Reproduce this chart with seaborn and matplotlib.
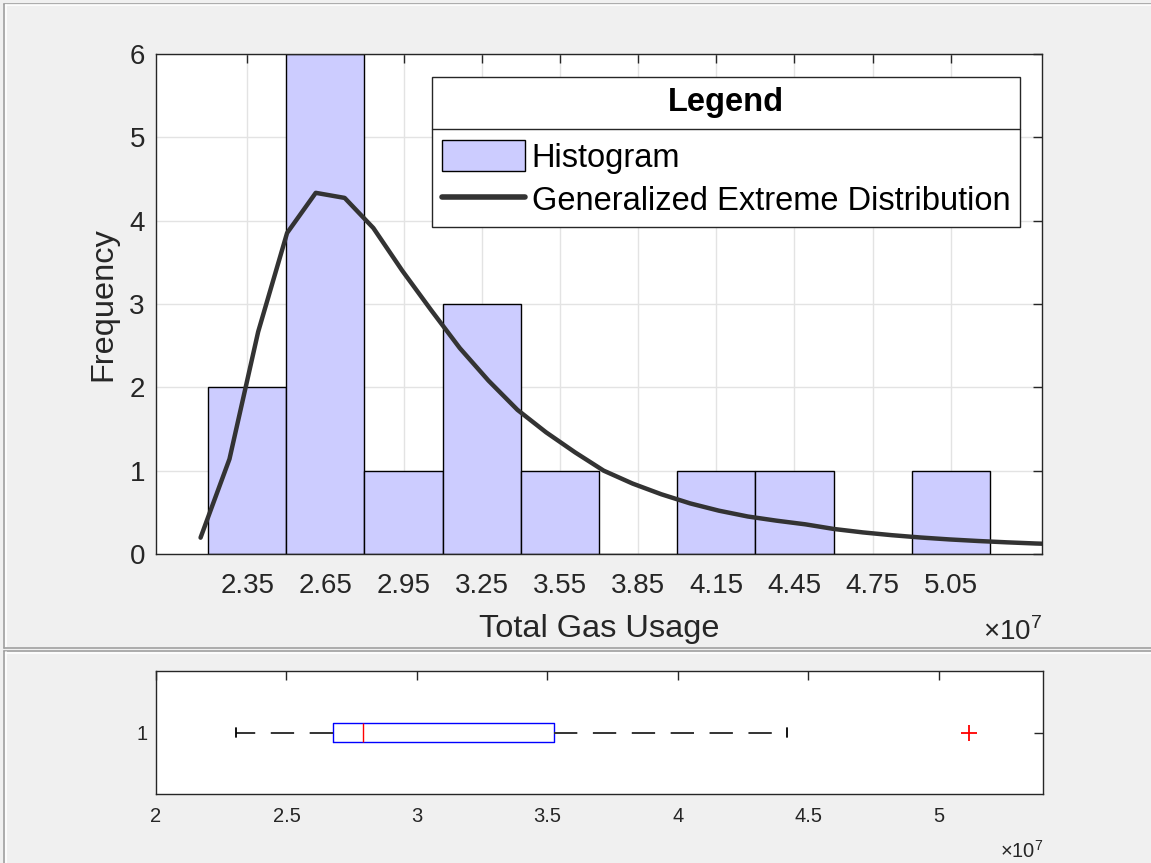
import matplotlib
matplotlib.use("Agg")
import matplotlib.pyplot as plt
import seaborn as sns
from matplotlib.lines import Line2D
from matplotlib.patches import Patch

# values are in units of 1e7
bin_edges = [2.2, 2.5, 2.8, 3.1, 3.4, 3.7, 4.0, 4.3, 4.6, 4.9, 5.2]
bin_centers = [2.35, 2.65, 2.95, 3.25, 3.55, 3.85, 4.15, 4.45, 4.75, 5.05]
counts = [2, 6, 1, 3, 1, 0, 1, 1, 0, 1]

gev_x = [2.171, 2.282, 2.392, 2.503, 2.613, 2.724, 2.834, 2.945, 3.055, 3.166,
         3.276, 3.387, 3.497, 3.608, 3.718, 3.829, 3.939, 4.050, 4.160, 4.271,
         4.381, 4.492, 4.602, 4.713, 4.823, 4.934, 5.044, 5.155, 5.265, 5.376,
         5.486]
gev_y = [0.196, 1.14, 2.666, 3.852, 4.334, 4.273, 3.912, 3.40, 2.93, 2.47,
         2.08, 1.73, 1.46, 1.22, 1.00, 0.845, 0.717, 0.607, 0.52, 0.45,
         0.40, 0.356, 0.30, 0.259, 0.226, 0.198, 0.175, 0.156, 0.14, 0.126,
         0.115]

# box plot summary
whisker_lo = 2.308
q1 = 2.680
median = 2.795
q3 = 3.524
whisker_hi = 4.418
outliers = [5.118]

hist_ticks = bin_centers
box_ticks = [2, 2.5, 3, 3.5, 4, 4.5, 5]
box_tick_labels = ["2", "2.5", "3", "3.5", "4", "4.5", "5"]

sns.set_style("white")
plt.rcParams['font.family'] = ['Liberation Sans', 'DejaVu Sans']
plt.rcParams['mathtext.fontset'] = 'custom'
plt.rcParams['mathtext.rm'] = 'Liberation Sans'

W, H = 1151, 863
fig = plt.figure(figsize=(W / 100, H / 100), dpi=100)
fig.patch.set_facecolor('#f0f0f0')

dark = '#262626'


def px_rect(left, top, right, bottom):
    return [left / W, 1 - bottom / H, (right - left) / W, (bottom - top) / H]


# ---- histogram + GEV fit ----
ax1 = fig.add_axes(px_rect(156, 54, 1042, 554))
ax1.set_facecolor('white')
ax1.set_axisbelow(True)
ax1.grid(True, color='#e3e3e3', lw=1)

sns.histplot(x=bin_centers, weights=counts, bins=bin_edges, ax=ax1,
             color='#ccccff', edgecolor='black', linewidth=1, alpha=1)
sns.lineplot(x=gev_x, y=gev_y, ax=ax1, color='#333333', lw=3.2)

ax1.set_xlim(2.0, 5.4)
ax1.set_ylim(0, 6)
ax1.set_xticks(hist_ticks)
ax1.set_xticklabels([f"{t:.2f}" for t in hist_ticks])
ax1.set_yticks(range(7))
ax1.tick_params(axis='both', direction='in', length=6.5, width=1, color=dark,
                labelcolor=dark, labelsize=20, top=True, right=True)
ax1.tick_params(axis='x', pad=13.5)
ax1.tick_params(axis='y', pad=8)
for s in ax1.spines.values():
    s.set_color(dark)
    s.set_linewidth(1)
ax1.set_xlabel("Total Gas Usage", fontsize=23.4, color=dark, labelpad=11)
ax1.set_ylabel("Frequency", fontsize=23.4, color=dark, labelpad=8)
ax1.text(1.0, -0.155, r"$\times10^{7}$", transform=ax1.transAxes,
         ha='right', va='center', fontsize=20, color=dark)

handles = [Patch(facecolor='#ccccff', edgecolor='black', lw=1),
           Line2D([0], [0], color='#333333', lw=4)]
leg = ax1.legend(handles, ["Histogram", "Generalized Extreme Distribution"],
                 title="Legend", loc='upper right',
                 bbox_to_anchor=(0.9752, 0.954), borderaxespad=0,
                 fontsize=23.5, title_fontproperties={'size': 23.5, 'weight': 'bold'},
                 frameon=True, fancybox=False, framealpha=1, edgecolor=dark,
                 handlelength=2.55, handleheight=1.1, handletextpad=0.2,
                 labelspacing=0.3, borderpad=0.3, labelcolor='black')
leg.get_title().set_color('black')
leg.get_frame().set_linewidth(1)
# more room between the title and the entries
leg._legend_box.sep = 16

# ---- box plot ----
ax2 = fig.add_axes(px_rect(156, 671, 1043, 794))
ax2.set_facecolor('white')
stats = [dict(med=median, q1=q1, q3=q3, whislo=whisker_lo, whishi=whisker_hi,
              fliers=outliers)]
ax2.bxp(stats, positions=[1], vert=False, widths=0.155, showfliers=True,
        boxprops=dict(color='blue', lw=1),
        medianprops=dict(color='red', lw=1),
        whiskerprops=dict(color='#333333', lw=1.4, linestyle=(0, (12, 8))),
        capprops=dict(color='black', lw=1.3), capwidths=0.07,
        flierprops=dict(marker='+', markeredgecolor='red', markersize=12,
                        markeredgewidth=1.3, linestyle='none'))
ax2.set_xlim(2.0, 5.4)
ax2.set_ylim(0.5, 1.5)
ax2.set_xticks(box_ticks)
ax2.set_xticklabels(box_tick_labels)
ax2.set_yticks([1])
ax2.set_yticklabels(["1"])
ax2.tick_params(axis='both', direction='in', length=6.5, width=1, color=dark,
                labelcolor=dark, labelsize=14.5, top=True, right=True)
ax2.tick_params(axis='x', pad=9)
ax2.tick_params(axis='y', pad=6)
for s in ax2.spines.values():
    s.set_color(dark)
    s.set_linewidth(1)
ax2.text(1.0, -0.46, r"$\times10^{7}$", transform=ax2.transAxes,
         ha='right', va='center', fontsize=14.5, color=dark)

# ---- panel borders ----
def hline(y, x0, x1, color, lw=1.2):
    fig.add_artist(Line2D([x0 / W, x1 / W], [1 - y / H, 1 - y / H],
                          transform=fig.transFigure, color=color, lw=lw))


def vline(x, y0, y1, color, lw=1.2):
    fig.add_artist(Line2D([x / W, x / W], [1 - y0 / H, 1 - y1 / H],
                          transform=fig.transFigure, color=color, lw=lw))


hline(4, 4, W, '#a0a0a0')
hline(5.5, 5, W, 'white')
vline(4, 4, 648, '#a0a0a0')
vline(5.5, 5, 647, 'white')
hline(648, 4, W, '#a0a0a0')
hline(651, 4, W, '#a0a0a0')
hline(652.5, 5, W, 'white')
vline(4, 651, H, '#a0a0a0')
vline(5.5, 652, H, 'white')

# separator line under the legend title
fig.canvas.draw()
fb = leg.get_frame().get_window_extent()
tb = leg.get_title().get_window_extent()
ysep = tb.y0 - 11
fig.add_artist(Line2D([fb.x0 / W, fb.x1 / W], [ysep / H, ysep / H],
                      transform=fig.transFigure, color=dark, lw=1))

fig.savefig("out.png", dpi=100, facecolor=fig.get_facecolor())
